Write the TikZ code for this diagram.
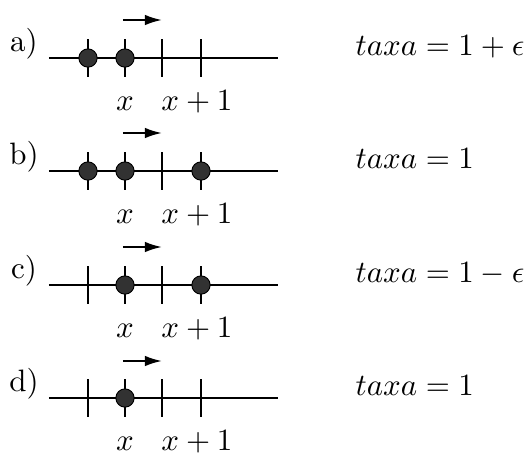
\documentclass[tikz,border=0pt]{standalone}
\usepackage{amsmath,amssymb}
\usepackage{tikz}
\usetikzlibrary{arrows.meta,positioning}
\definecolor{particlegray}{RGB}{50, 50, 50}

\begin{document}
\begin{tikzpicture}[
      x=0.323pt,
      y=-0.323pt,
      axis/.style={line width=0.7pt},
      tickmark/.style={line width=0.7pt},
      particle/.style={
        circle,
        fill=particlegray,
        draw=black,
        line width=0.3pt,
        inner sep=0pt,
        minimum size=5.9pt
      },
      hop/.style={
        line width=0.7pt,
        -{Latex[length=5.5pt,width=3.4pt]}
      },
      rowlabel/.style={anchor=base, inner sep=0pt},
      sitelabel/.style={anchor=base, inner sep=0pt},
      rate/.style={anchor=base west, inner sep=0pt},
  ]
        \useasboundingbox (0,0) rectangle (529,456);

        % a) Duas partículas à esquerda
        \path (49,58) coordinate (a-start) (88,58) coordinate (a-1)
              (125,58) coordinate (a-2) (162,58) coordinate (a-3)
              (201,58) coordinate (a-4) (278,58) coordinate (a-end)
              (123,20) coordinate (a-from) (162,20) coordinate (a-to);
        \draw[axis] (a-start) -- (a-end);
        \draw[tickmark] (a-1) ++(0,-19) -- ++(0,38) (a-2) ++(0,-19) -- ++(0,38)
                        (a-3) ++(0,-19) -- ++(0,38) (a-4) ++(0,-19) -- ++(0,38);
        \node[particle] (a-p1) at (a-1) {};
        \node[particle] (a-p2) at (a-2) {};
        \draw[hop] (a-from) -- (a-to);
        \node[rowlabel] (a-lab) at (24,51) {a)};
        \node[sitelabel] (a-x) at (125,110) {$x$};
        \node[sitelabel] (a-x1) at (197,110) {$x+1$};
        \node[rate] (a-rate) at (355,55) {$taxa = 1 + \epsilon$};

        % b) Três partículas
        \path (49,171) coordinate (b-start) (88,171) coordinate (b-1)
              (125,171) coordinate (b-2) (162,171) coordinate (b-3)
              (201,171) coordinate (b-4) (278,171) coordinate (b-end)
              (123,133) coordinate (b-from) (162,133) coordinate (b-to);
        \draw[axis] (b-start) -- (b-end);
        \draw[tickmark] (b-1) ++(0,-19) -- ++(0,38) (b-2) ++(0,-19) -- ++(0,38)
                        (b-3) ++(0,-19) -- ++(0,38) (b-4) ++(0,-19) -- ++(0,38);
        \node[particle] (b-p1) at (b-1) {};
        \node[particle] (b-p2) at (b-2) {};
        \node[particle] (b-p4) at (b-4) {};
        \draw[hop] (b-from) -- (b-to);
        \node[rowlabel] (b-lab) at (24,164) {b)};
        \node[sitelabel] (b-x) at (125,223) {$x$};
        \node[sitelabel] (b-x1) at (197,223) {$x+1$};
        \node[rate] (b-rate) at (355,168) {$taxa = 1$};

        % c) Partícula em x e em x+2
        \path (49,285) coordinate (c-start) (88,285) coordinate (c-1)
              (125,285) coordinate (c-2) (162,285) coordinate (c-3)
              (201,285) coordinate (c-4) (278,285) coordinate (c-end)
              (123,247) coordinate (c-from) (162,247) coordinate (c-to);
        \draw[axis] (c-start) -- (c-end);
        \draw[tickmark] (c-1) ++(0,-19) -- ++(0,38) (c-2) ++(0,-19) -- ++(0,38)
                        (c-3) ++(0,-19) -- ++(0,38) (c-4) ++(0,-19) -- ++(0,38);
        \node[particle] (c-p2) at (c-2) {};
        \node[particle] (c-p4) at (c-4) {};
        \draw[hop] (c-from) -- (c-to);
        \node[rowlabel] (c-lab) at (24,278) {c)};
        \node[sitelabel] (c-x) at (125,337) {$x$};
        \node[sitelabel] (c-x1) at (197,337) {$x+1$};
        \node[rate] (c-rate) at (355,282) {$taxa = 1 - \epsilon$};

        % d) Partícula isolada
        \path (49,398) coordinate (d-start) (88,398) coordinate (d-1)
              (125,398) coordinate (d-2) (162,398) coordinate (d-3)
              (201,398) coordinate (d-4) (278,398) coordinate (d-end)
              (123,361) coordinate (d-from) (162,361) coordinate (d-to);
        \draw[axis] (d-start) -- (d-end);
        \draw[tickmark] (d-1) ++(0,-19) -- ++(0,38) (d-2) ++(0,-19) -- ++(0,38)
                        (d-3) ++(0,-19) -- ++(0,38) (d-4) ++(0,-19) -- ++(0,38);
        \node[particle] (d-p2) at (d-2) {};
        \draw[hop] (d-from) -- (d-to);
        \node[rowlabel] (d-lab) at (24,391) {d)};
        \node[sitelabel] (d-x) at (125,450) {$x$};
        \node[sitelabel] (d-x1) at (197,450) {$x+1$};
        \node[rate] (d-rate) at (355,395) {$taxa = 1$};
  \end{tikzpicture}
\end{document}
